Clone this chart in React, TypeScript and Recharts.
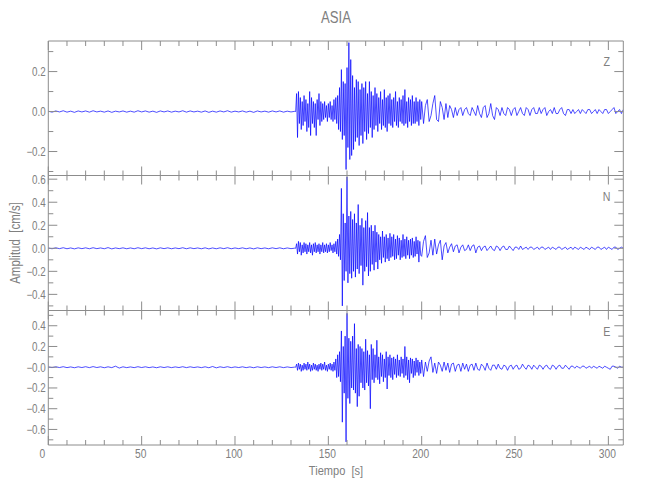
import React from "react";
import { LineChart, Line, XAxis, YAxis } from "recharts";

const FONT = "'Liberation Sans', Arial, sans-serif";
const NARROW = 0.82;
const TEXT = "#808080";
const AXIS = "#8c8c8c";
const TRACE = "#0000ff";

const T_MAX = 308;
const QUIET_START = 0;
const QUIET_STEP = 2;
const ACTIVE_START = 132.5;
const ACTIVE_STEP = 0.5;
const CODA_START = 200;
const CODA_STEP = 1;

const X_TICKS = [0, 10, 20, 30, 40, 50, 60, 70, 80, 90, 100, 110, 120, 130, 140, 150, 160, 170, 180, 190, 200, 210, 220, 230, 240, 250, 260, 270, 280, 290, 300];

// ---- Z component ----
const Z_QUIET = [
  0.002, -0.003, 0.003, -0.002, 0.004, -0.003, 0.002, -0.004, 0.003, -0.002,
  0.003, -0.003, 0.004, -0.002, 0.002, -0.003, 0.003, -0.004, 0.002, -0.002,
  0.003, -0.003, 0.002, -0.003, 0.004, -0.002, 0.003, -0.003, 0.002, -0.004,
  0.003, -0.002, 0.003, -0.003, 0.002, -0.002, 0.004, -0.003, 0.003, -0.002,
  0.002, -0.003, 0.003, -0.004, 0.002, -0.003, 0.003, -0.002, 0.004, -0.003,
  0.002, -0.002, 0.003, -0.003, 0.002, -0.004, 0.003, -0.002, 0.002, -0.003,
  0.003, -0.002, 0.003, -0.003, 0.002, -0.002, 0.001,
];
const Z_ACTIVE = [
  0.0, 0.09, -0.13, 0.1, -0.06, 0.07, -0.09, 0.05, -0.07, 0.08,
  -0.05, 0.06, -0.1, 0.04, -0.08, 0.1, -0.12, 0.07, -0.06, 0.05,
  -0.08, 0.04, -0.12, 0.06, -0.04, 0.09, -0.07, 0.05, -0.05, 0.04,
  -0.04, 0.05, -0.03, 0.03, -0.05, 0.04, -0.03, 0.05, -0.04, 0.03,
  -0.05, 0.06, -0.04, 0.07, -0.06, 0.08, -0.09, 0.12, -0.1, 0.21,
  -0.14, 0.15, -0.12, 0.14, -0.29, 0.22, -0.18, 0.345, -0.24, 0.26,
  -0.22, 0.18, -0.19, 0.12, -0.15, 0.16, -0.13, 0.15, -0.17, 0.11,
  -0.12, 0.14, -0.16, 0.12, -0.1, 0.15, -0.14, 0.09, -0.11, 0.15,
  -0.08, 0.1, -0.13, 0.08, -0.09, 0.12, -0.07, 0.09, -0.1, 0.07,
  -0.06, 0.1, -0.09, 0.06, -0.07, 0.11, -0.08, 0.07, -0.1, 0.08,
  -0.06, 0.09, -0.07, 0.06, -0.08, 0.07, -0.05, 0.1, -0.07, 0.05,
  -0.08, 0.07, -0.05, 0.06, -0.06, 0.08, -0.07, 0.11, -0.06, 0.05,
  -0.08, 0.07, -0.05, 0.06, -0.07, 0.08, -0.06, 0.05, -0.06, 0.07,
  -0.05, 0.05, -0.07, 0.06, -0.04,
];
const Z_CODA = [
  0.05, -0.06, 0.03, 0.06, -0.05, -0.02, 0.04, 0.08, -0.04, -0.05,
  0.05, 0.02, -0.04, 0.04, -0.03, 0.03, 0.01, -0.03, 0.02, -0.02,
  0.01, 0.02, -0.02, 0.01, 0.02, -0.01, -0.02, 0.02, 0.0, -0.02,
  0.03, -0.01, -0.03, 0.02, 0.03, -0.03, -0.01, 0.04, -0.02, -0.04,
  0.02, 0.01, -0.02, 0.02, -0.01, -0.02, 0.02, 0.01, -0.02, 0.01,
  0.02, -0.02, 0.0, 0.02, -0.01, -0.02, 0.02, 0.01, -0.02, 0.01,
  0.02, -0.01, -0.01, 0.02, -0.01, 0.01, 0.02, -0.02, 0.0, 0.01,
  -0.01, 0.02, -0.01, -0.01, 0.01, 0.02, -0.01, -0.02, 0.01, 0.01,
  -0.01, 0.01, -0.01, 0.0, 0.01, -0.01, 0.01, 0.0, -0.01, 0.01,
  0.01, -0.01, 0.0, 0.01, -0.01, 0.01, 0.0, -0.01, 0.01, 0.01,
  -0.01, 0.0, 0.01, 0.02, -0.01, 0.0, 0.01, -0.01, 0.01,
];

// ---- N component ----
const N_QUIET = [
  0.003, -0.004, 0.004, -0.003, 0.005, -0.004, 0.003, -0.005, 0.004, -0.003,
  0.004, -0.004, 0.005, -0.003, 0.003, -0.004, 0.006, -0.005, 0.003, -0.003,
  0.004, -0.004, 0.003, -0.004, 0.005, -0.003, 0.004, -0.004, 0.003, -0.005,
  0.004, -0.003, 0.004, -0.004, 0.003, -0.003, 0.005, -0.004, 0.004, -0.003,
  0.003, -0.004, 0.004, -0.005, 0.003, -0.004, 0.004, -0.003, 0.005, -0.004,
  0.003, -0.003, 0.004, -0.004, 0.003, -0.005, 0.004, -0.003, 0.003, -0.004,
  0.004, -0.003, 0.004, -0.004, 0.003, -0.003, 0.001,
];
const N_ACTIVE = [
  0.0, 0.04, -0.05, 0.06, -0.03, 0.05, -0.06, 0.03, -0.04, 0.05,
  -0.03, 0.04, -0.05, 0.03, -0.03, 0.05, -0.04, 0.03, -0.06, 0.04,
  -0.03, 0.05, -0.04, 0.03, -0.03, 0.04, -0.05, 0.03, -0.03, 0.05,
  -0.04, 0.03, -0.03, 0.04, -0.04, 0.03, -0.03, 0.05, -0.02, 0.03,
  -0.04, 0.04, -0.03, 0.06, -0.05, 0.08, -0.07, 0.12, -0.1, 0.52,
  -0.5, 0.3, -0.28, 0.22, -0.2, 0.62, -0.3, 0.28, -0.22, 0.32,
  -0.26, 0.25, -0.2, 0.3, -0.25, 0.22, -0.18, 0.38, -0.22, 0.2,
  -0.15, 0.26, -0.32, 0.18, -0.2, 0.24, -0.16, 0.31, -0.24, 0.18,
  -0.2, 0.2, -0.14, 0.15, -0.19, 0.2, -0.12, 0.14, -0.18, 0.12,
  -0.1, 0.1, -0.13, 0.15, -0.08, 0.1, -0.12, 0.12, -0.09, 0.09,
  -0.11, 0.13, -0.08, 0.1, -0.07, 0.12, -0.1, 0.08, -0.09, 0.11,
  -0.06, 0.09, -0.1, 0.07, -0.08, 0.12, -0.07, 0.08, -0.09, 0.1,
  -0.06, 0.07, -0.09, 0.08, -0.06, 0.09, -0.08, 0.06, -0.07, 0.1,
  -0.05, 0.07, -0.12, 0.06, -0.06,
];
const N_CODA = [
  -0.07, 0.06, 0.11, -0.08, -0.04, 0.07, -0.06, 0.08, -0.05, 0.03,
  0.07, -0.1, 0.02, 0.05, -0.04, 0.01, 0.04, -0.03, 0.02, 0.03,
  -0.04, 0.01, 0.03, -0.02, -0.01, 0.03, -0.02, 0.02, 0.03, -0.04,
  0.01, 0.02, -0.02, 0.01, 0.02, -0.02, 0.0, 0.02, -0.01, -0.02,
  0.02, 0.01, -0.02, 0.01, 0.02, -0.01, -0.01, 0.02, 0.0, -0.02,
  0.01, 0.01, -0.01, 0.02, -0.01, 0.0, 0.01, -0.01, 0.01, 0.01,
  -0.01, 0.0, 0.01, -0.01, 0.01, 0.01, -0.01, 0.0, 0.01, -0.01,
  0.01, 0.0, -0.01, 0.01, 0.01, -0.01, 0.0, 0.01, -0.01, 0.0,
  0.01, -0.01, 0.01, 0.0, -0.01, 0.01, 0.0, -0.01, 0.01, 0.0,
  -0.01, 0.01, 0.0, -0.01, 0.01, 0.01, -0.01, 0.0, 0.01, -0.01,
  0.01, 0.0, -0.01, 0.01, 0.01, -0.01, 0.0, 0.01, 0.0,
];

// ---- E component ----
const E_QUIET = [
  0.003, -0.004, 0.004, -0.003, 0.005, -0.004, 0.003, -0.005, 0.004, -0.003,
  0.005, -0.004, 0.006, -0.003, 0.004, -0.005, 0.004, -0.004, 0.01, -0.008,
  0.004, -0.004, 0.003, -0.004, 0.005, -0.003, 0.004, -0.004, 0.003, -0.005,
  0.004, -0.003, 0.004, -0.004, 0.003, -0.003, 0.005, -0.004, 0.004, -0.003,
  0.003, -0.004, 0.004, -0.005, 0.007, -0.006, 0.004, -0.003, 0.005, -0.004,
  0.003, -0.003, 0.004, -0.004, 0.003, -0.005, 0.004, -0.003, 0.003, -0.004,
  0.004, -0.003, 0.004, -0.004, 0.003, -0.003, 0.001,
];
const E_ACTIVE = [
  0.0, 0.03, -0.03, 0.04, -0.02, 0.03, -0.04, 0.02, -0.03, 0.04,
  -0.02, 0.03, -0.03, 0.05, -0.02, 0.03, -0.04, 0.02, -0.03, 0.04,
  -0.02, 0.03, -0.03, 0.02, -0.04, 0.03, -0.02, 0.04, -0.03, 0.03,
  -0.02, 0.05, -0.03, 0.02, -0.04, 0.03, -0.02, 0.04, -0.03, 0.03,
  -0.04, 0.05, -0.03, 0.08, -0.1, 0.12, -0.09, 0.15, -0.14, 0.35,
  -0.53, 0.2, -0.25, 0.3, -0.72, 0.52, -0.3, 0.28, -0.35, 0.25,
  -0.2, 0.3, -0.22, 0.42, -0.25, 0.18, -0.38, 0.22, -0.28, 0.2,
  -0.15, 0.18, -0.2, 0.15, -0.22, 0.27, -0.15, 0.16, -0.18, 0.12,
  -0.4, 0.22, -0.12, 0.18, -0.15, 0.12, -0.1, 0.26, -0.12, 0.1,
  -0.16, 0.14, -0.09, 0.12, -0.14, 0.08, -0.1, 0.15, -0.21, 0.1,
  -0.08, 0.12, -0.1, 0.09, -0.12, 0.1, -0.07, 0.08, -0.1, 0.12,
  -0.08, 0.07, -0.09, 0.1, -0.06, 0.08, -0.1, 0.2, -0.08, 0.1,
  -0.12, 0.07, -0.15, 0.09, -0.06, 0.08, -0.1, 0.06, -0.08, 0.09,
  -0.05, 0.07, -0.08, 0.05, -0.06,
];
const E_CODA = [
  0.07, -0.09, 0.05, -0.04, 0.06, 0.1, -0.05, 0.04, -0.06, 0.05,
  0.02, -0.04, 0.05, -0.03, 0.04, -0.05, 0.03, 0.04, -0.04, 0.02,
  0.03, -0.04, 0.04, -0.02, 0.03, -0.04, 0.02, 0.03, -0.03, 0.04,
  -0.02, -0.03, 0.03, 0.01, -0.03, 0.04, -0.01, -0.03, 0.02, 0.02,
  -0.02, 0.03, -0.01, -0.02, 0.02, 0.01, -0.03, 0.01, 0.02, -0.02,
  0.01, 0.02, -0.02, -0.01, 0.03, 0.0, -0.02, 0.02, 0.01, -0.02,
  0.02, 0.0, -0.02, 0.02, 0.01, -0.02, 0.01, 0.02, -0.01, -0.02,
  0.02, 0.01, -0.02, 0.01, 0.02, -0.01, -0.01, 0.02, 0.0, -0.02,
  0.01, 0.01, -0.01, 0.01, 0.0, -0.01, 0.01, 0.01, -0.01, 0.0,
  0.01, -0.01, 0.01, 0.0, -0.01, 0.01, 0.0, -0.01, 0.01, 0.0,
  -0.01, -0.02, 0.01, 0.01, 0.0, -0.01, 0.01, 0.0, 0.0,
];

const Z_TICKS = [-0.3, -0.2, -0.1, 0, 0.1, 0.2, 0.3];
const N_TICKS = [-0.5, -0.4, -0.3, -0.2, -0.1, 0, 0.1, 0.2, 0.3, 0.4, 0.5, 0.6];
const E_TICKS = [-0.7, -0.6, -0.5, -0.4, -0.3, -0.2, -0.1, 0, 0.1, 0.2, 0.3, 0.4, 0.5];
const Z_DOMAIN: [number, number] = [-0.32, 0.353];
const N_DOMAIN: [number, number] = [-0.54, 0.632];
const E_DOMAIN: [number, number] = [-0.75, 0.547];

function buildTrace(quiet: number[], active: number[], coda: number[]) {
  const pts: { t: number; v: number }[] = [];
  quiet.forEach((v, i) => pts.push({ t: QUIET_START + i * QUIET_STEP, v }));
  active.forEach((v, i) => pts.push({ t: ACTIVE_START + i * ACTIVE_STEP, v }));
  coda.forEach((v, i) => pts.push({ t: CODA_START + i * CODA_STEP, v }));
  return pts;
}

const MAJOR = 9;
const MINOR = 5;

function NText(props: {
  x: number;
  y: number;
  size: number;
  anchor?: "start" | "middle" | "end";
  rotate?: number;
  dy?: string;
  children: React.ReactNode;
}) {
  const { x, y, size, anchor = "middle", rotate = 0, dy, children } = props;
  return (
    <text
      transform={`translate(${x},${y}) rotate(${rotate}) scale(${NARROW},1)`}
      x={0}
      y={0}
      dy={dy}
      textAnchor={anchor}
      fill={TEXT}
      fontSize={size}
      fontFamily={FONT}
      style={{ whiteSpace: "pre" }}
    >
      {children}
    </text>
  );
}

const fmtY = (negZero: boolean) => (v: number) => {
  if (Math.abs(v) < 1e-9) return negZero ? "\u22120.0" : "0.0";
  return v < 0 ? "\u2212" + Math.abs(v).toFixed(1) : v.toFixed(1);
};

function makeTick(side: "l" | "r" | "t" | "b", labelled: boolean, fmt?: (v: number) => string) {
  return (props: any) => {
    const { x, y, payload } = props;
    const v = payload.value as number;
    const isX = side === "t" || side === "b";
    const major = isX ? v % 50 === 0 : Math.round(Math.abs(v) * 10) % 2 === 0;
    const len = major ? MAJOR : MINOR;
    let line: React.ReactNode = null;
    let label: React.ReactNode = null;
    const ls = { stroke: AXIS, strokeWidth: 1 };
    if (side === "l") {
      line = <line x1={x} y1={y} x2={x + len} y2={y} {...ls} />;
      if (labelled && major)
        label = (
          <NText x={x - 2.5} y={y} dy="0.36em" anchor="end" size={12}>
            {fmt ? fmt(v) : String(v)}
          </NText>
        );
    } else if (side === "r") {
      line = <line x1={x} y1={y} x2={x - len} y2={y} {...ls} />;
    } else if (side === "b") {
      line = <line x1={x} y1={y} x2={x} y2={y - len} {...ls} />;
      if (labelled && major)
        label = (
          <NText x={v === 0 ? x - 6 : x - 1} y={y + 12.5} size={12.5}>
            {String(v)}
          </NText>
        );
    } else {
      line = <line x1={x} y1={y} x2={x} y2={y + len} {...ls} />;
    }
    return (
      <g>
        {line}
        {label}
      </g>
    );
  };
}

type PanelProps = {
  data: { t: number; v: number }[];
  domain: [number, number];
  ticks: number[];
  top: number;
  bottom: number;
  showX: boolean;
  negZero: boolean;
};

const PLOT_LEFT = 48.3;
const PLOT_RIGHT = 623.3;

function Panel({ data, domain, ticks, top, bottom, showX, negZero }: PanelProps) {
  const margin = {
    top: top - 1,
    bottom: 500 - bottom - 1,
    left: PLOT_LEFT - 1,
    right: 650 - PLOT_RIGHT - 1,
  };
  const common = {
    type: "number" as const,
    allowDataOverflow: true,
    tickLine: false,
    tickSize: 0,
    tickMargin: 0,
    interval: 0 as const,
    axisLine: { stroke: AXIS, strokeWidth: 1 },
  };
  return (
    <div style={{ position: "absolute", left: 0, top: 0 }}>
      <LineChart width={650} height={500} data={data} margin={margin}>
        <XAxis xAxisId="b" dataKey="t" orientation="bottom" height={1} domain={[0, T_MAX]} ticks={X_TICKS} tick={makeTick("b", showX)} {...common} />
        <XAxis xAxisId="t" dataKey="t" orientation="top" height={1} domain={[0, T_MAX]} ticks={X_TICKS} tick={makeTick("t", false)} {...common} />
        <YAxis yAxisId="l" orientation="left" width={1} domain={domain} ticks={ticks} tick={makeTick("l", true, fmtY(negZero))} {...common} />
        <YAxis yAxisId="r" orientation="right" width={1} domain={domain} ticks={ticks} tick={makeTick("r", false)} {...common} />
        <Line
          xAxisId="b"
          yAxisId="l"
          dataKey="v"
          type="linear"
          stroke={TRACE}
          strokeWidth={0.7}
          dot={false}
          activeDot={false}
          isAnimationActive={false}
        />
      </LineChart>
    </div>
  );
}

const Z_DATA = buildTrace(Z_QUIET, Z_ACTIVE, Z_CODA);
const N_DATA = buildTrace(N_QUIET, N_ACTIVE, N_CODA);
const E_DATA = buildTrace(E_QUIET, E_ACTIVE, E_CODA);

export default function App() {
  return (
    <div style={{ position: "absolute", left: 0, top: 0, width: 650, height: 500, background: "#fff" }}>
      <Panel data={Z_DATA} domain={Z_DOMAIN} ticks={Z_TICKS} top={41} bottom={175.5} showX={false} negZero={false} />
      <Panel data={N_DATA} domain={N_DOMAIN} ticks={N_TICKS} top={175.5} bottom={310.5} showX={false} negZero={false} />
      <Panel data={E_DATA} domain={E_DOMAIN} ticks={E_TICKS} top={310.5} bottom={445} showX={true} negZero={true} />
      <svg width={650} height={500} style={{ position: "absolute", left: 0, top: 0, pointerEvents: "none" }}>
        <NText x={336} y={23} size={16}>ASIA</NText>
        <NText x={336} y={475} size={13.5}>{"Tiempo  [s]"}</NText>
        <NText x={20} y={243} size={14} rotate={-90}>{"Amplitud  [cm/s]"}</NText>
        <NText x={606.7} y={66} size={13}>Z</NText>
        <NText x={606.7} y={201} size={13}>N</NText>
        <NText x={606.7} y={336} size={13}>E</NText>
      </svg>
    </div>
  );
}
